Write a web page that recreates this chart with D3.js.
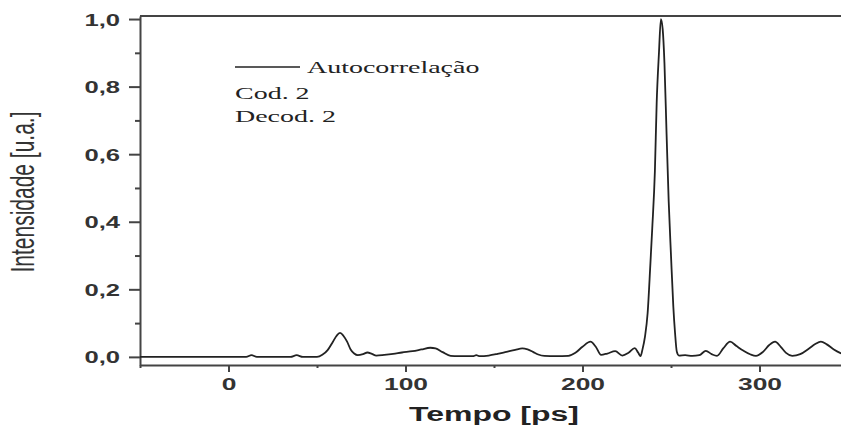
<!DOCTYPE html>
<html>
<head>
<meta charset="utf-8">
<script src="https://d3js.org/d3.v7.min.js"></script>
<style>
  html, body { margin: 0; padding: 0; background: #fff; }
  svg { display: block; }
  .axis path, .axis line { stroke: #444; }
  .axis text { font-family: "Liberation Sans", Arial, sans-serif; font-weight: bold; fill: #333; }
  .line { fill: none; stroke: #222; stroke-width: 1.8px; stroke-linejoin: round; }
</style>
</head>
<body>
<div id="chart"></div>
<script>
(function (_divId) {
    'use strict';

    // autocorrelation trace
    var tempo = [-50, 0, 10, 13, 16, 35, 38.5, 42, 50, 53, 56, 59, 61, 63, 65, 67, 69, 71, 73,
        76, 78.5, 81, 83.5, 88, 93, 98, 104, 109, 114, 117, 121, 125.5, 130, 138, 140, 142,
        147, 152, 157, 162, 166, 169, 172, 175, 178.5, 185, 192, 196, 200, 204.5, 207.5,
        210.5, 214, 218.5, 222.5, 226, 229.5, 231.5, 232.8, 233.8, 235.3, 236.8, 238.3,
        239.4, 240.9, 241.9, 243.2, 244.3, 245.3, 246.3, 247.5, 248.7, 250, 251.3, 252.3,
        253.3, 254.5, 258, 262, 266, 269.7, 273, 276, 279.5, 283.4, 287, 291, 295, 298,
        302, 305.5, 308.8, 312, 315, 318.5, 323, 328, 331.5, 334.7, 338, 342, 345.5, 350];
    var intensidade = [0, 0, 0, 0.005, 0, 0, 0.005, 0, 0, 0.006, 0.02, 0.045, 0.062, 0.071,
        0.062, 0.045, 0.022, 0.01, 0.005, 0.008, 0.013, 0.009, 0.004, 0.006, 0.009, 0.013,
        0.017, 0.022, 0.027, 0.025, 0.014, 0.003, 0.002, 0.002, 0.005, 0.002, 0.004, 0.009,
        0.015, 0.021, 0.025, 0.022, 0.015, 0.007, 0.003, 0.002, 0.003, 0.012, 0.03, 0.045,
        0.03, 0.006, 0.01, 0.017, 0.004, 0.012, 0.026, 0.012, 0.002, 0.02, 0.06, 0.13, 0.27,
        0.38, 0.55, 0.75, 0.9, 1.0, 0.97, 0.87, 0.66, 0.46, 0.3, 0.15, 0.07, 0.015, 0.004,
        0.005, 0.003, 0.005, 0.018, 0.008, 0.003, 0.025, 0.045, 0.032, 0.018, 0.007, 0.003,
        0.015, 0.035, 0.045, 0.03, 0.012, 0.003, 0.008, 0.025, 0.038, 0.045, 0.037, 0.022,
        0.012, 0.004];

    var xTicks = [0, 100, 200, 300];
    var xMinorTicks = [-50, 50, 150, 250, 350];
    var yTicks = [0, 0.2, 0.4, 0.6, 0.8, 1.0];
    var yMinorTicks = [0.1, 0.3, 0.5, 0.7, 0.9];
    var legendLabel = 'Autocorrelação';
    var legendNotes = ['Cod. 2', 'Decod. 2'];
    var xTitle = 'Tempo [ps]';
    var yTitle = 'Intensidade [u.a.]';

    var width = 841, height = 427;
    var SX = 1.6; // the original figure is stretched sideways, text too
    var fmt = function (d) { return d3.format('.1f')(d).replace('.', ','); };

    var svg = d3.select('#' + _divId).append('svg')
        .attr('width', width).attr('height', height);

    var x = d3.scaleLinear().domain([-50, 350]).range([140, 848]);
    var y = d3.scaleLinear().domain([-0.024, 1.009]).range([365, 16]);

    svg.append('defs').append('clipPath').attr('id', 'clip')
        .append('rect')
        .attr('x', x.range()[0]).attr('y', y.range()[1])
        .attr('width', x.range()[1] - x.range()[0])
        .attr('height', y.range()[0] - y.range()[1]);

    // minor ticks first, majors on top
    svg.append('g').attr('class', 'axis')
        .attr('transform', 'translate(0,' + y.range()[0] + ')')
        .call(d3.axisBottom(x).tickValues(xMinorTicks).tickSize(3).tickFormat(''))
        .call(function (g) { g.select('.domain').remove(); });
    svg.append('g').attr('class', 'axis')
        .attr('transform', 'translate(' + x.range()[0] + ',0)')
        .call(d3.axisLeft(y).tickValues(yMinorTicks).tickSize(5).tickFormat(''))
        .call(function (g) { g.select('.domain').remove(); });

    var xAxis = svg.append('g').attr('class', 'axis axis--x')
        .attr('transform', 'translate(0,' + y.range()[0] + ')')
        .call(d3.axisBottom(x).tickValues(xTicks).tickSize(7).tickSizeOuter(0).tickFormat(d3.format('d')));
    xAxis.selectAll('text')
        .attr('y', 0).attr('dy', 0)
        .attr('transform', 'translate(0,25) scale(' + SX + ',1)')
        .style('font-size', '16.5px');

    var yAxis = svg.append('g').attr('class', 'axis axis--y')
        .attr('transform', 'translate(' + x.range()[0] + ',0)')
        .call(d3.axisLeft(y).tickValues(yTicks).tickSize(11).tickSizeOuter(0).tickFormat(fmt));
    yAxis.selectAll('text')
        .attr('x', 0).attr('dy', 0)
        .attr('transform', 'translate(-20,6) scale(' + SX + ',1)')
        .style('font-size', '16px');

    svg.selectAll('.axis path.domain, .axis line').style('stroke-width', '2px');

    // frame top edge
    svg.append('line')
        .attr('x1', x.range()[0]).attr('x2', x.range()[1])
        .attr('y1', y.range()[1]).attr('y2', y.range()[1])
        .style('stroke', '#444').style('stroke-width', '2px');

    var line = d3.line()
        .curve(d3.curveMonotoneX)
        .x(function (d, i) { return x(tempo[i]); })
        .y(function (d) { return y(d); });

    svg.append('g').attr('clip-path', 'url(#clip)')
        .append('path')
        .datum(intensidade)
        .attr('class', 'line')
        .attr('d', line);

    // legend
    svg.append('line')
        .attr('x1', 235).attr('x2', 300).attr('y1', 67).attr('y2', 67)
        .style('stroke', '#222').style('stroke-width', '1.6px');
    var serif = '"Liberation Serif", "Times New Roman", serif';
    svg.append('text')
        .attr('transform', 'translate(307,73) scale(' + SX + ',1)')
        .style('font-family', serif).style('font-size', '17.5px').style('fill', '#222')
        .text(legendLabel);
    svg.selectAll('.note').data(legendNotes).enter().append('text')
        .attr('class', 'note')
        .attr('transform', function (d, i) { return 'translate(235,' + (99 + i * 23) + ') scale(' + SX + ',1)'; })
        .style('font-family', serif).style('font-size', '17.5px').style('fill', '#222')
        .text(function (d) { return d; });

    // axis titles
    svg.append('text')
        .attr('transform', 'translate(494,421) scale(' + SX + ',1)')
        .attr('text-anchor', 'middle')
        .style('font-family', '"Liberation Sans", Arial, sans-serif')
        .style('font-size', '20px').style('font-weight', 'bold').style('fill', '#222')
        .text(xTitle);
    svg.append('text')
        .attr('transform', 'translate(34,192) scale(' + SX + ',1) rotate(-90)')
        .attr('text-anchor', 'middle')
        .style('font-family', '"Liberation Sans", Arial, sans-serif')
        .style('font-size', '21px').style('fill', '#333')
        .text(yTitle);
})('chart');
</script>
</body>
</html>
